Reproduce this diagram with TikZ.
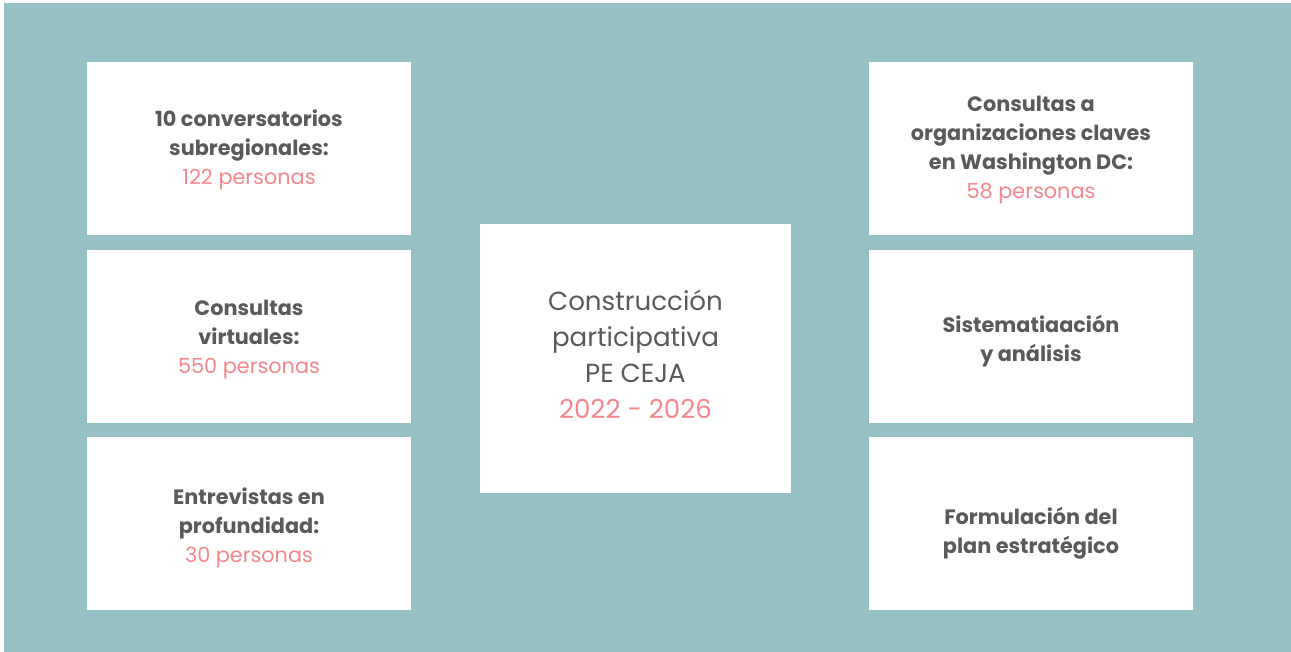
\documentclass[tikz,border=0pt]{standalone}
\usepackage{fontspec}
\setmainfont{Poppins}
\usepackage{tikz}

\definecolor{bgteal}{HTML}{95C1C4}
\definecolor{txtgray}{HTML}{5A5A5A}
\definecolor{numpink}{HTML}{F4878C}

\begin{document}
\begin{tikzpicture}[x=0.75pt, y=-0.75pt,
    card/.style={fill=white, minimum width=243pt, minimum height=129.75pt, inner sep=0pt},
    lbl/.style={align=center, text=txtgray, font=\fontsize{15.6}{21.75}\selectfont\bfseries}]
      \useasboundingbox (0, 0) rectangle (1291, 652);
      \fill[bgteal] (4, 3) rectangle (1291, 652);
      % left column
      \node[card] (c1) at (249, 148.5) {};
      \node[card] (c2) at (249, 336.5) {};
      \node[card] (c3) at (249, 523.5) {};
      \node[lbl] (t1) at (249, 149.5) {10 conversatorios\\subregionales:\\\textcolor{numpink}{\mdseries 122 personas}};
      \node[lbl] (t2) at (249, 339.5) {Consultas\\virtuales:\\\textcolor{numpink}{\mdseries 550 personas}};
      \node[lbl] (t3) at (249, 527.5) {Entrevistas en\\profundidad:\\\textcolor{numpink}{\mdseries 30 personas}};
      % right column
      \node[card] (c4) at (1031, 148.5) {};
      \node[card] (c5) at (1031, 336.5) {};
      \node[card] (c6) at (1031, 523.5) {};
      \node[lbl] (t4) at (1031, 150) {Consultas a\\organizaciones claves\\en Washington DC:\\\textcolor{numpink}{\mdseries 58 personas}};
      \node[lbl] (t5) at (1031, 341.5) {Sistematiaación\\y análisis};
      \node[lbl] (t6) at (1031, 533.5) {Formulación del\\plan estratégico};
      % centre
      \node[card, minimum width=233.25pt, minimum height=201.75pt] (mid) at (635.5, 358.5) {};
      \node[lbl, font=\fontsize{19.6}{27}\selectfont\mdseries] (midtext) at (635.5, 354)
        {Construcción\\participativa\\PE CEJA\\\textcolor{numpink}{2022 - 2026}};
    \end{tikzpicture}
\end{document}
